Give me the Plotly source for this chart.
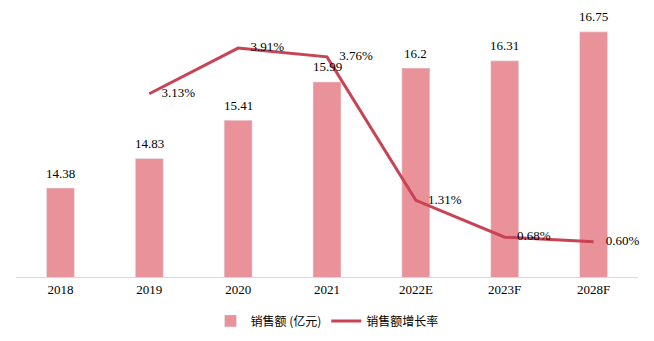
import plotly.graph_objects as go

# Sales revenue (100 million yuan) and year-over-year growth rate
years = ["2018", "2019", "2020", "2021", "2022E", "2023F", "2028F"]
sales = [14.38, 14.83, 15.41, 15.99, 16.2, 16.31, 16.75]
growth_years = ["2019", "2020", "2021", "2022E", "2023F", "2028F"]
growth = [3.13, 3.91, 3.76, 1.31, 0.68, 0.60]

bar_color = "#EA9299"
line_color = "#C84455"
serif = "Liberation Serif"
cjk = "Noto Sans CJK SC"

fig = go.Figure()

fig.add_trace(go.Bar(
    x=years, y=sales, name="销售额 (亿元)",
    marker=dict(color=bar_color),
    width=0.315,
))

# value labels sitting a little above each bar (x given as category index)
for i, v in enumerate(sales):
    fig.add_annotation(
        x=i, y=v, text=f"{v:g}", showarrow=False,
        yanchor="middle", yshift=15,
        font=dict(family=serif, size=13, color="#000000"),
    )

fig.add_trace(go.Scatter(
    x=growth_years, y=growth, name="销售额增长率",
    mode="lines",
    line=dict(color=line_color, width=3),
    yaxis="y2",
    cliponaxis=False,
))

# growth-rate labels, offset to the right of each point by invisible markers
fig.add_trace(go.Scatter(
    x=growth_years, y=growth, showlegend=False,
    mode="markers+text",
    marker=dict(size=18, opacity=0, color=line_color),
    text=[f"{v:.2f}%" for v in growth],
    textposition="middle right",
    textfont=dict(family=serif, size=13, color="#000000"),
    yaxis="y2",
    cliponaxis=False,
    hoverinfo="skip",
))

fig.update_layout(
    width=654, height=341,
    margin=dict(l=16, r=16, t=20, b=64, autoexpand=False),
    paper_bgcolor="white", plot_bgcolor="white",
    showlegend=True,
    legend=dict(
        orientation="h", x=0.5, xanchor="center",
        yref="container", y=0.059, yanchor="middle",
        font=dict(family=cjk, size=12, color="#000000"),
        traceorder="normal",
    ),
    xaxis=dict(
        type="category", categoryorder="array", categoryarray=years,
        range=[-0.5, len(years) - 0.5],
        showline=True, linecolor="#D9D9D9", linewidth=1,
        tickfont=dict(family=serif, size=13, color="#000000"),
        ticks="", showgrid=False,
    ),
    yaxis=dict(range=[13.03, 16.93], visible=False, showgrid=False),
    yaxis2=dict(range=[0, 4.39], overlaying="y", side="right",
                visible=False, showgrid=False),
    bargap=0.685,
)

fig.write_html("out.html")
